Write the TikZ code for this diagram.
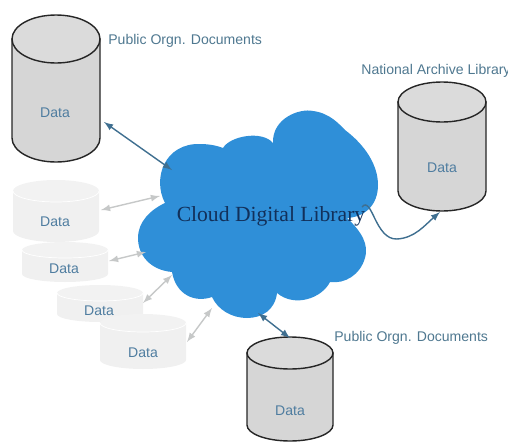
\documentclass[tikz,border=0pt]{standalone}
\usepackage{fontspec}
\setmainfont{Liberation Sans}
\newfontfamily\cloudfont{Liberation Serif}
\definecolor{cloudblue}{HTML}{2F8FD8}
\definecolor{cloudtext}{HTML}{12305A}
\definecolor{labeltext}{HTML}{4F7890}
\definecolor{datatext}{HTML}{4F7DA0}
\definecolor{darklink}{HTML}{3F6F90}
\definecolor{greylink}{HTML}{C6C8C8}
\tikzset{
  dbbody/.style={draw=black!85, thick, fill=black!16},
  dbend/.style={draw=black!85, thick, fill=black!14},
  fadebody/.style={fill=black!6},
  fadeend/.style={fill=black!5},
  datatag/.style={text=datatext, inner sep=0pt, font=\fontsize{8}{9}\selectfont},
  orgnlabel/.style={text=labeltext, inner sep=0pt, font=\fontsize{8}{9}\selectfont},
  darklnk/.style={darklink, thick, >=latex},
  greylnk/.style={greylink, thick, >=latex}
}
\begin{document}
\begin{tikzpicture}[x=0.02cm,y=-0.02cm]
\useasboundingbox (0,0) rectangle (508,443);

% Cloud, lobe by lobe
\fill [cloudblue] (165,203) .. controls (152,178) and (165,143) .. (200,144) .. controls (210,144) and (218,146) .. (223,148)
  .. controls (230,136) and (262,130) .. (273,143)
  .. controls (272,118) and (300,108) .. (313,111) .. controls (330,113) and (340,125) .. (345,130)
  .. controls (365,145) and (378,165) .. (378,185) .. controls (378,205) and (365,217) .. (347,218)
  .. controls (362,232) and (369,245) .. (365,258) .. controls (360,275) and (345,284) .. (330,282)
  .. controls (322,298) and (295,308) .. (277,293)
  .. controls (275,310) and (262,318) .. (247,318) .. controls (232,318) and (218,310) .. (212,297)
  .. controls (195,303) and (176,295) .. (172,272)
  .. controls (150,270) and (138,255) .. (138,238) .. controls (138,222) and (150,210) .. (165,203) -- cycle;
\node [text=cloudtext, inner sep=0pt, font=\cloudfont\fontsize{12.3}{14}\selectfont] (cloudname) at (271,216) {Cloud Digital Library};

% Solid cylinders: centre x, top y, half width, half end height, side length
\foreach \cx/\cy/\rx/\ry/\len/\tagx/\tagy/\name in {56/39/44/24/99/55/113/pubtop, 442/102/44/20/89/442/168/natarch, 290/353/43/16/72/290/411/pubbot} {
  \draw [dbbody] (\cx-\rx,\cy) -- (\cx-\rx,\cy+\len) arc [start angle=180, end angle=0, x radius=\rx, y radius=\ry] -- (\cx+\rx,\cy) -- cycle;
  \draw [dbend] (\cx,\cy) ellipse [x radius=\rx, y radius=\ry];
  \node [datatag] (\name) at (\tagx,\tagy) {Data};
}

% Faded cylinders, back to front
\foreach \cx/\cy/\rx/\ry/\len/\tagx/\tagy/\name in {56/191/43/11/40/55/222/fadea, 65/250/43/8/24/64/269/fadeb, 100/293/43/8/21/99/311/fadec, 143/323/43/9/37/143/353/faded} {
  \fill [fadebody] (\cx-\rx,\cy) -- (\cx-\rx,\cy+\len) arc [start angle=180, end angle=0, x radius=\rx, y radius=\ry] -- (\cx+\rx,\cy) -- cycle;
  \fill [fadeend] (\cx,\cy) ellipse [x radius=\rx, y radius=\ry];
  \draw [white] (\cx-\rx,\cy) arc [start angle=180, end angle=0, x radius=\rx, y radius=\ry];
  \node [datatag] (\name) at (\tagx,\tagy) {Data};
}

% Labels
\node [orgnlabel, anchor=west] (pubtoplabel) at (108,41) {Public Orgn. Documents};
\node [orgnlabel, anchor=west] (natarchlabel) at (361,71) {National Archive Library};
\node [orgnlabel, anchor=west] (pubbotlabel) at (334,338) {Public Orgn. Documents};

% Link ends
\coordinate (pubtopend) at (104,122);
\coordinate (cloudnw) at (172,170);
\coordinate (fadeaend) at (101,210);
\coordinate (cloudwa) at (160,196);
\coordinate (fadebend) at (109,261);
\coordinate (cloudwb) at (146,252);
\coordinate (fadecend) at (143,303);
\coordinate (cloudsa) at (172,275);
\coordinate (fadedend) at (187,342);
\coordinate (cloudsb) at (212,308);
\coordinate (cloudsc) at (258,313);
\coordinate (pubbotend) at (290,338);
\coordinate (cloude) at (362,207);
\coordinate (natarchend) at (440,212);

% Links
\draw [<->, darklnk] (pubtopend) -- (cloudnw);
\draw [<->, darklnk] (cloudsc) -- (pubbotend);
\draw [<->, greylnk] (fadeaend) -- (cloudwa);
\draw [<->, greylnk] (fadebend) -- (cloudwb);
\draw [<->, greylnk] (fadecend) -- (cloudsa);
\draw [<->, greylnk] (fadedend) -- (cloudsb);
\draw [->, darklnk] (cloude) .. controls (372,195) and (375,240) .. (397,239) .. controls (415,238) and (425,225) .. (natarchend);

\end{tikzpicture}
\end{document}
